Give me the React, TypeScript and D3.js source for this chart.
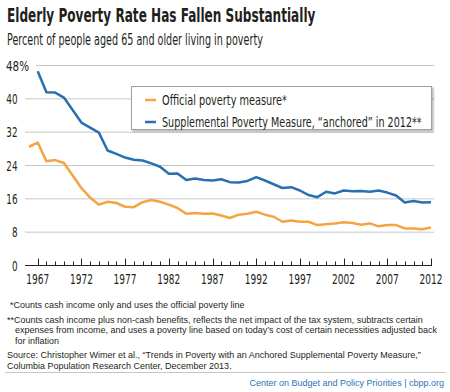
import React, { useLayoutEffect, useRef, useState } from 'react';
import { scaleLinear, line, range } from 'd3';

const officialYears = range(1966, 2013);
const officialRate = [
  28.5, 29.5, 25.0, 25.3, 24.6, 21.6, 18.6, 16.3, 14.6, 15.3, 15.0, 14.1, 14.0,
  15.2, 15.7, 15.3, 14.6, 13.8, 12.4, 12.6, 12.4, 12.5, 12.0, 11.4, 12.2, 12.4,
  12.9, 12.2, 11.7, 10.5, 10.8, 10.5, 10.5, 9.7, 9.9, 10.1, 10.4, 10.2, 9.8,
  10.1, 9.4, 9.7, 9.7, 8.9, 8.9, 8.7, 9.1,
];

const spmYears = range(1967, 2013);
const spmRate = [
  46.6, 41.6, 41.5, 40.3, 37.3, 34.3, 33.1, 31.9, 27.6, 26.8, 25.9, 25.4, 25.2,
  24.5, 23.7, 22.0, 22.1, 20.5, 20.9, 20.5, 20.4, 20.7, 20.0, 19.9, 20.3, 21.2,
  20.4, 19.5, 18.6, 18.8, 18.0, 16.9, 16.4, 17.7, 17.3, 18.0, 17.8, 17.9, 17.7,
  18.0, 17.5, 16.8, 15.1, 15.5, 15.1, 15.2,
];

const yTicks = [0, 8, 16, 24, 32, 40, 48];
const xLabelYears = [1967, 1972, 1977, 1982, 1987, 1992, 1997, 2002, 2007, 2012];
const tickYears = range(1967, 2013);

const legendLabels = [
  'Official poverty measure*',
  'Supplemental Poverty Measure, \u201canchored\u201d in 2012**',
];
const legendWidths = [125, 260];

const footnotes = [
  { mark: '*', lines: ['Counts cash income only and uses the official poverty line'] },
  {
    mark: '**',
    lines: [
      'Counts cash income plus non-cash benefits, reflects the net impact of the tax system, subtracts certain',
      'expenses from income, and uses a poverty line based on today\u2019s cost of certain necessities adjusted back',
      'for inflation',
    ],
  },
];
const sourceLines = [
  'Source: Christopher Wimer et al., \u201cTrends in Poverty with an Anchored Supplemental Poverty Measure,\u201d',
  'Columbia Population Research Center, December 2013.',
];

const ORANGE = '#f4a443';
const BLUE = '#2a70b0';
const TEXT = '#231f20';
// no condensed Myriad installed: squeeze DejaVu Condensed horizontally to the reference widths
const NARROW = '"DejaVu Sans Condensed", "DejaVu Sans", sans-serif';
const BODY = '"Liberation Sans", Arial, sans-serif';

type FitProps = {
  x: number;
  y: number;
  w: number;
  anchor?: 'start' | 'middle' | 'end';
  size: number;
  bold?: boolean;
  children: string;
};

// draws text squeezed horizontally so it is w px wide
function FitText({ x, y, w, anchor = 'start', size, bold, children }: FitProps) {
  const ref = useRef<SVGTextElement>(null);
  const [sx, setSx] = useState(1);
  useLayoutEffect(() => {
    const natural = ref.current?.getBBox().width ?? w;
    if (natural > 0) setSx(w / natural);
  }, [children, w, size]);
  return (
    <text
      ref={ref}
      transform={`translate(${x},${y}) scale(${sx},1)`}
      textAnchor={anchor}
      fontFamily={NARROW}
      fontWeight={bold ? 'bold' : 'normal'}
      fontSize={size}
      fill={TEXT}
    >
      {children}
    </text>
  );
}

export default function App() {
  const width = 450;
  const height = 392;

  const x = scaleLinear().domain([1967, 2012]).range([37.7, 431]);
  const y = scaleLinear().domain([0, 48]).range([265.5, 65.5]);

  const officialLine = line<number>()
    .x((_d, i) => x(officialYears[i]))
    .y((d) => y(d));
  const spmLine = line<number>()
    .x((_d, i) => x(spmYears[i]))
    .y((d) => y(d));

  return (
    <svg
      width={width}
      height={height}
      style={{ position: 'absolute', left: 0, top: 0, background: '#fff' }}
    >
      <defs>
        <filter id="shadow" x="-5%" y="-20%" width="115%" height="150%">
          <feDropShadow dx="1.5" dy="1.5" stdDeviation="1" floodColor="#000" floodOpacity="0.3" />
        </filter>
      </defs>
      <rect width={width} height={height} fill="#fff" />

      <FitText x={7} y={22} w={309} size={20} bold>
        Elderly Poverty Rate Has Fallen Substantially
      </FitText>
      <FitText x={7} y={45} w={256} size={15}>
        Percent of people aged 65 and older living in poverty
      </FitText>

      {/* gridlines */}
      {yTicks.filter((t) => t > 0).map((t) => (
        <line
          key={t}
          x1={t === 48 ? 36 : 25}
          x2={434}
          y1={y(t)}
          y2={y(t)}
          stroke="#c6c6c6"
          strokeWidth={1}
        />
      ))}
      {yTicks.map((t) => {
        const top = t === 48;
        const label = top ? `${t}%` : String(t);
        return (
          <FitText
            key={t}
            x={top ? 6 : 17.5}
            y={y(t) + 5}
            anchor={top ? 'start' : 'end'}
            size={14}
            w={top ? 23 : label.length * 5.6}
          >
            {label}
          </FitText>
        );
      })}

      {/* x axis */}
      <line x1={25} x2={432} y1={y(0)} y2={y(0)} stroke={TEXT} strokeWidth={1} />
      {tickYears.map((yr) => {
        const major = xLabelYears.includes(yr);
        return (
          <line
            key={yr}
            x1={Math.round(x(yr)) + 0.5}
            x2={Math.round(x(yr)) + 0.5}
            y1={y(0)}
            y2={y(0) - (major ? 7 : 4)}
            stroke={TEXT}
            strokeWidth={1}
          />
        );
      })}
      {xLabelYears.map((yr) => (
        <FitText key={yr} x={x(yr)} y={284} anchor="middle" size={14} w={23}>
          {String(yr)}
        </FitText>
      ))}

      {/* series */}
      <path d={officialLine(officialRate) ?? ''} fill="none" stroke={ORANGE} strokeWidth={2.5} strokeLinejoin="round" />
      <path d={spmLine(spmRate) ?? ''} fill="none" stroke={BLUE} strokeWidth={2.5} strokeLinejoin="round" />

      {/* legend */}
      <rect x={131.5} y={86.5} width={300} height={43} fill="#fff" stroke="#a0a0a0" strokeWidth={1} filter="url(#shadow)" />
      {legendLabels.map((label, i) => (
        <g key={label}>
          <line
            x1={145}
            x2={156}
            y1={100 + i * 22}
            y2={100 + i * 22}
            stroke={i === 0 ? ORANGE : BLUE}
            strokeWidth={2.5}
          />
          <FitText x={162} y={105 + i * 22} size={13.5} w={legendWidths[i]}>
            {label}
          </FitText>
        </g>
      ))}

      {/* footnotes */}
      <g fontFamily={BODY} fontSize={9} fill={TEXT}>
        <text x={10} y={307.5}>
          {footnotes[0].mark + footnotes[0].lines[0]}
        </text>
        {footnotes[1].lines.map((l, i) => (
          <text key={i} x={i === 0 ? 7 : 15} y={322.5 + i * 10.5}>
            {i === 0 ? footnotes[1].mark + l : l}
          </text>
        ))}
        {sourceLines.map((l, i) => (
          <text key={i} x={7} y={358 + i * 10.5}>
            {l}
          </text>
        ))}
      </g>
      <line x1={5} x2={446} y1={372.5} y2={372.5} stroke="#c6c6c6" strokeWidth={1} />
      <text x={444} y={386} textAnchor="end" fontFamily={BODY} fontSize={9} fill="#2d72b8">
        Center on Budget and Policy Priorities | cbpp.org
      </text>
    </svg>
  );
}
